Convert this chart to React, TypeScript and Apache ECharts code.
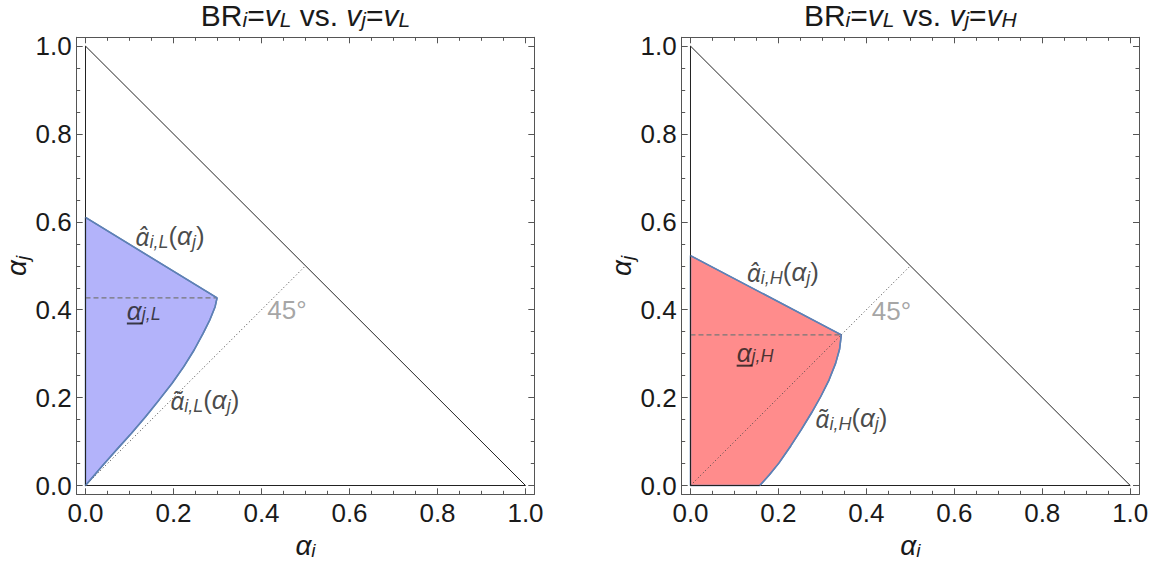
import React, { useEffect, useRef } from "react";
import * as echarts from "echarts";

const FONT = "'Liberation Sans', Arial, Helvetica, sans-serif";
const ACC_FONT = "'Noto Sans', 'DejaVu Sans', sans-serif";
const INK = "#1a1a1a";
const FRAME = "#555555";
const EDGE = "#5e81b5";

// axis extent (Mathematica-style padding around [0,1])
const axisMin = -0.02;
const axisMax = 1.02;

// simplex boundary and 45° line
const simplexEdges = [[0, 1], [1, 0], [0, 0], [0, 1]];
const line45 = [[0, 0], [0.5, 0.5]];

// Left panel: BR_i = v_L vs. v_j = v_L
const leftHat = [[0, 0.61], [0.299, 0.427]];
const leftTilde = [
  [0.299, 0.427], [0.2946, 0.4069], [0.2825, 0.3766], [0.2673, 0.3463], [0.2469, 0.3084],
  [0.2234, 0.2705], [0.1969, 0.2327], [0.1673, 0.1948], [0.137, 0.1569], [0.1045, 0.119],
  [0.0704, 0.0811], [0.037, 0.0432], [0, 0],
];
const leftAlphaJ = 0.427;

// Right panel: BR_i = v_L vs. v_j = v_H
const rightHat = [[0, 0.523], [0.343, 0.343]];
const rightTilde = [
  [0.343, 0.343], [0.339, 0.31], [0.33, 0.278], [0.315, 0.24], [0.296, 0.202],
  [0.275, 0.165], [0.252, 0.127], [0.228, 0.09], [0.201, 0.051], [0.18, 0.025], [0.1575, 0],
];
const rightAlphaJ = 0.343;

// annotation anchors (data coordinates)
const leftLabelAnchors = { hat: [0.192, 0.567], under: [0.094, 0.396], tilde: [0.271, 0.195], deg: [0.458, 0.399] };
const rightLabelAnchors = { hat: [0.21, 0.486], under: [0.105, 0.3], tilde: [0.366, 0.154], deg: [0.457, 0.397] };

const rich: any = {
  a: { fontFamily: FONT, fontSize: 26, fontStyle: "italic", lineHeight: 30, color: INK },
  ah: { fontFamily: ACC_FONT, fontSize: 25, fontStyle: "italic", lineHeight: 30, color: INK },
  u: { fontFamily: FONT, fontSize: 26, fontStyle: "italic", lineHeight: 24, color: INK },
  su: { fontFamily: FONT, fontSize: 18, fontStyle: "italic", lineHeight: 14, verticalAlign: "bottom", color: INK },
  ul: { fontSize: 1, width: 16, height: 2, lineHeight: 2, backgroundColor: INK },
  s: { fontFamily: FONT, fontSize: 18, fontStyle: "italic", lineHeight: 16, verticalAlign: "bottom", color: INK },
  p: { fontFamily: FONT, fontSize: 26, lineHeight: 30, color: INK },
  n: { fontFamily: FONT, fontSize: 30, lineHeight: 30, color: INK },
  v: { fontFamily: FONT, fontSize: 30, fontStyle: "italic", lineHeight: 30, color: INK },
  t: { fontFamily: FONT, fontSize: 21, fontStyle: "italic", lineHeight: 18, verticalAlign: "bottom", color: INK },
  g: { fontFamily: FONT, fontSize: 26, lineHeight: 30, color: "#8e8e8e" },
  an: { fontFamily: FONT, fontSize: 28, fontStyle: "italic", lineHeight: 30, color: INK },
  as: { fontFamily: FONT, fontSize: 19, fontStyle: "italic", lineHeight: 18, verticalAlign: "bottom", color: INK },
};

const titleLeft = "{n|BR}{t|i}{n|=}{v|v}{t|L}{n| vs. }{v|v}{t|j}{n|=}{v|v}{t|L}";
const titleRight = "{n|BR}{t|i}{n|=}{v|v}{t|L}{n| vs. }{v|v}{t|j}{n|=}{v|v}{t|H}";

const isMajor = (v: number) => Math.abs(v * 5 - Math.round(v * 5)) < 1e-6 && v >= -1e-9 && v <= 1 + 1e-9;

function makeAxis(kind: "x" | "y", gridIndex: number, position: string, labels: boolean, name?: string, nameGap?: number) {
  return {
    type: "value",
    gridIndex,
    position,
    min: axisMin,
    max: axisMax,
    splitNumber: 5,
    axisLine: { show: true, onZero: false, lineStyle: { color: FRAME, width: 1 } },
    axisTick: { show: true, inside: true, length: 6, lineStyle: { color: FRAME, width: 1 } },
    minorTick: { show: true, splitNumber: 4, length: 3.5, lineStyle: { color: FRAME, width: 1 } },
    splitLine: { show: false },
    minorSplitLine: { show: false },
    axisLabel: {
      show: labels,
      showMinLabel: false,
      showMaxLabel: false,
      formatter: (v: number) => (isMajor(v) ? v.toFixed(1) : ""),
      fontFamily: FONT,
      fontSize: 26,
      color: INK,
      margin: kind === "x" ? 6 : 5,
    },
    name: name || "",
    nameLocation: "middle",
    nameGap: nameGap ?? 0,
    nameTextStyle: { rich },
  };
}

function lineSeries(data: number[][], idx: number, color: string, width: number, type: any, z: number) {
  return {
    type: "line",
    xAxisIndex: idx,
    yAxisIndex: idx,
    data,
    symbol: "none",
    showSymbol: false,
    silent: true,
    clip: false,
    z,
    lineStyle: { color, width, type },
  };
}

function regionSeries(poly: number[][], idx: number, fill: string) {
  return {
    type: "custom",
    xAxisIndex: idx,
    yAxisIndex: idx,
    data: [poly[0]],
    silent: true,
    clip: false,
    z: 1,
    renderItem: (_params: any, api: any) => ({
      type: "polygon",
      shape: { points: poly.map((p) => api.coord(p)) },
      style: { fill, stroke: EDGE, lineWidth: 1.5, lineJoin: "round" },
    }),
  };
}

function labelSeries(idx: number, items: { pos: number[]; text: string; align?: string }[]) {
  return {
    type: "scatter",
    xAxisIndex: idx,
    yAxisIndex: idx,
    symbolSize: 0,
    silent: true,
    z: 10,
    data: items.map((it) => ({
      value: it.pos,
      label: {
        show: true,
        position: "inside",
        align: it.align || "center",
        verticalAlign: "middle",
        formatter: it.text,
        rich,
      },
    })),
  };
}

function panelSeries(idx: number, hat: number[][], tilde: number[][], alphaJ: number, fill: string, anchors: any, sub: string) {
  const region = [...hat, ...tilde.slice(1)];
  const last = region[region.length - 1];
  if (last[0] !== 0 || last[1] !== 0) region.push([0, 0]);
  const apex = hat[hat.length - 1];
  return [
    regionSeries(region, idx, fill),
    lineSeries([[0, alphaJ], [apex[0], alphaJ]], idx, "#777777", 1.2, [5, 3], 3),
    lineSeries(line45, idx, "#444444", 1, [1, 2.5], 4),
    lineSeries(simplexEdges, idx, "#222222", 1, "solid", 5),
    lineSeries(hat, idx, EDGE, 1.5, "solid", 6),
    lineSeries(tilde, idx, EDGE, 1.5, "solid", 6),
    labelSeries(idx, [
      { pos: anchors.hat, text: `{ah|α\u0302}{s|i,${sub}}{p|(}{a|α}{s|j}{p|)}` },
      { pos: anchors.under, text: `{u|α}{su|j,${sub}}\n{ul| }`, align: "left" },
      { pos: anchors.tilde, text: `{ah|α\u0303}{s|i,${sub}}{p|(}{a|α}{s|j}{p|)}` },
      { pos: anchors.deg, text: "{g|45°}" },
    ]),
  ];
}

export default function App() {
  const ref = useRef<HTMLDivElement>(null);
  useEffect(() => {
    document.body.style.margin = "0";
    if (!ref.current) return;
    const chart = echarts.init(ref.current, null, { renderer: "svg" });
    const option: any = {
      animation: false,
      backgroundColor: "#ffffff",
      grid: [
        { left: 76.7, top: 37.3, width: 457.6, height: 457, containLabel: false, outerBoundsMode: "none" },
        { left: 681.7, top: 37.3, width: 457.3, height: 457, containLabel: false, outerBoundsMode: "none" },
      ],
      xAxis: [
        makeAxis("x", 0, "bottom", true, "{an|α}{as|i}", 35),
        makeAxis("x", 0, "top", false, titleLeft, 7),
        makeAxis("x", 1, "bottom", true, "{an|α}{as|i}", 35),
        makeAxis("x", 1, "top", false, titleRight, 7),
      ],
      yAxis: [
        makeAxis("y", 0, "left", true, "{an|α}{as|j}", 45),
        makeAxis("y", 0, "right", false),
        makeAxis("y", 1, "left", true, "{an|α}{as|j}", 45),
        makeAxis("y", 1, "right", false),
      ],
      series: [
        ...panelSeries(0, leftHat, leftTilde, leftAlphaJ, "#b3b3fa", leftLabelAnchors, "L"),
        ...panelSeries(2, rightHat, rightTilde, rightAlphaJ, "#ff8c8c", rightLabelAnchors, "H"),
      ],
    };
    chart.setOption(option);
    return () => chart.dispose();
  }, []);
  return <div ref={ref} style={{ width: 1151, height: 567 }} />;
}
